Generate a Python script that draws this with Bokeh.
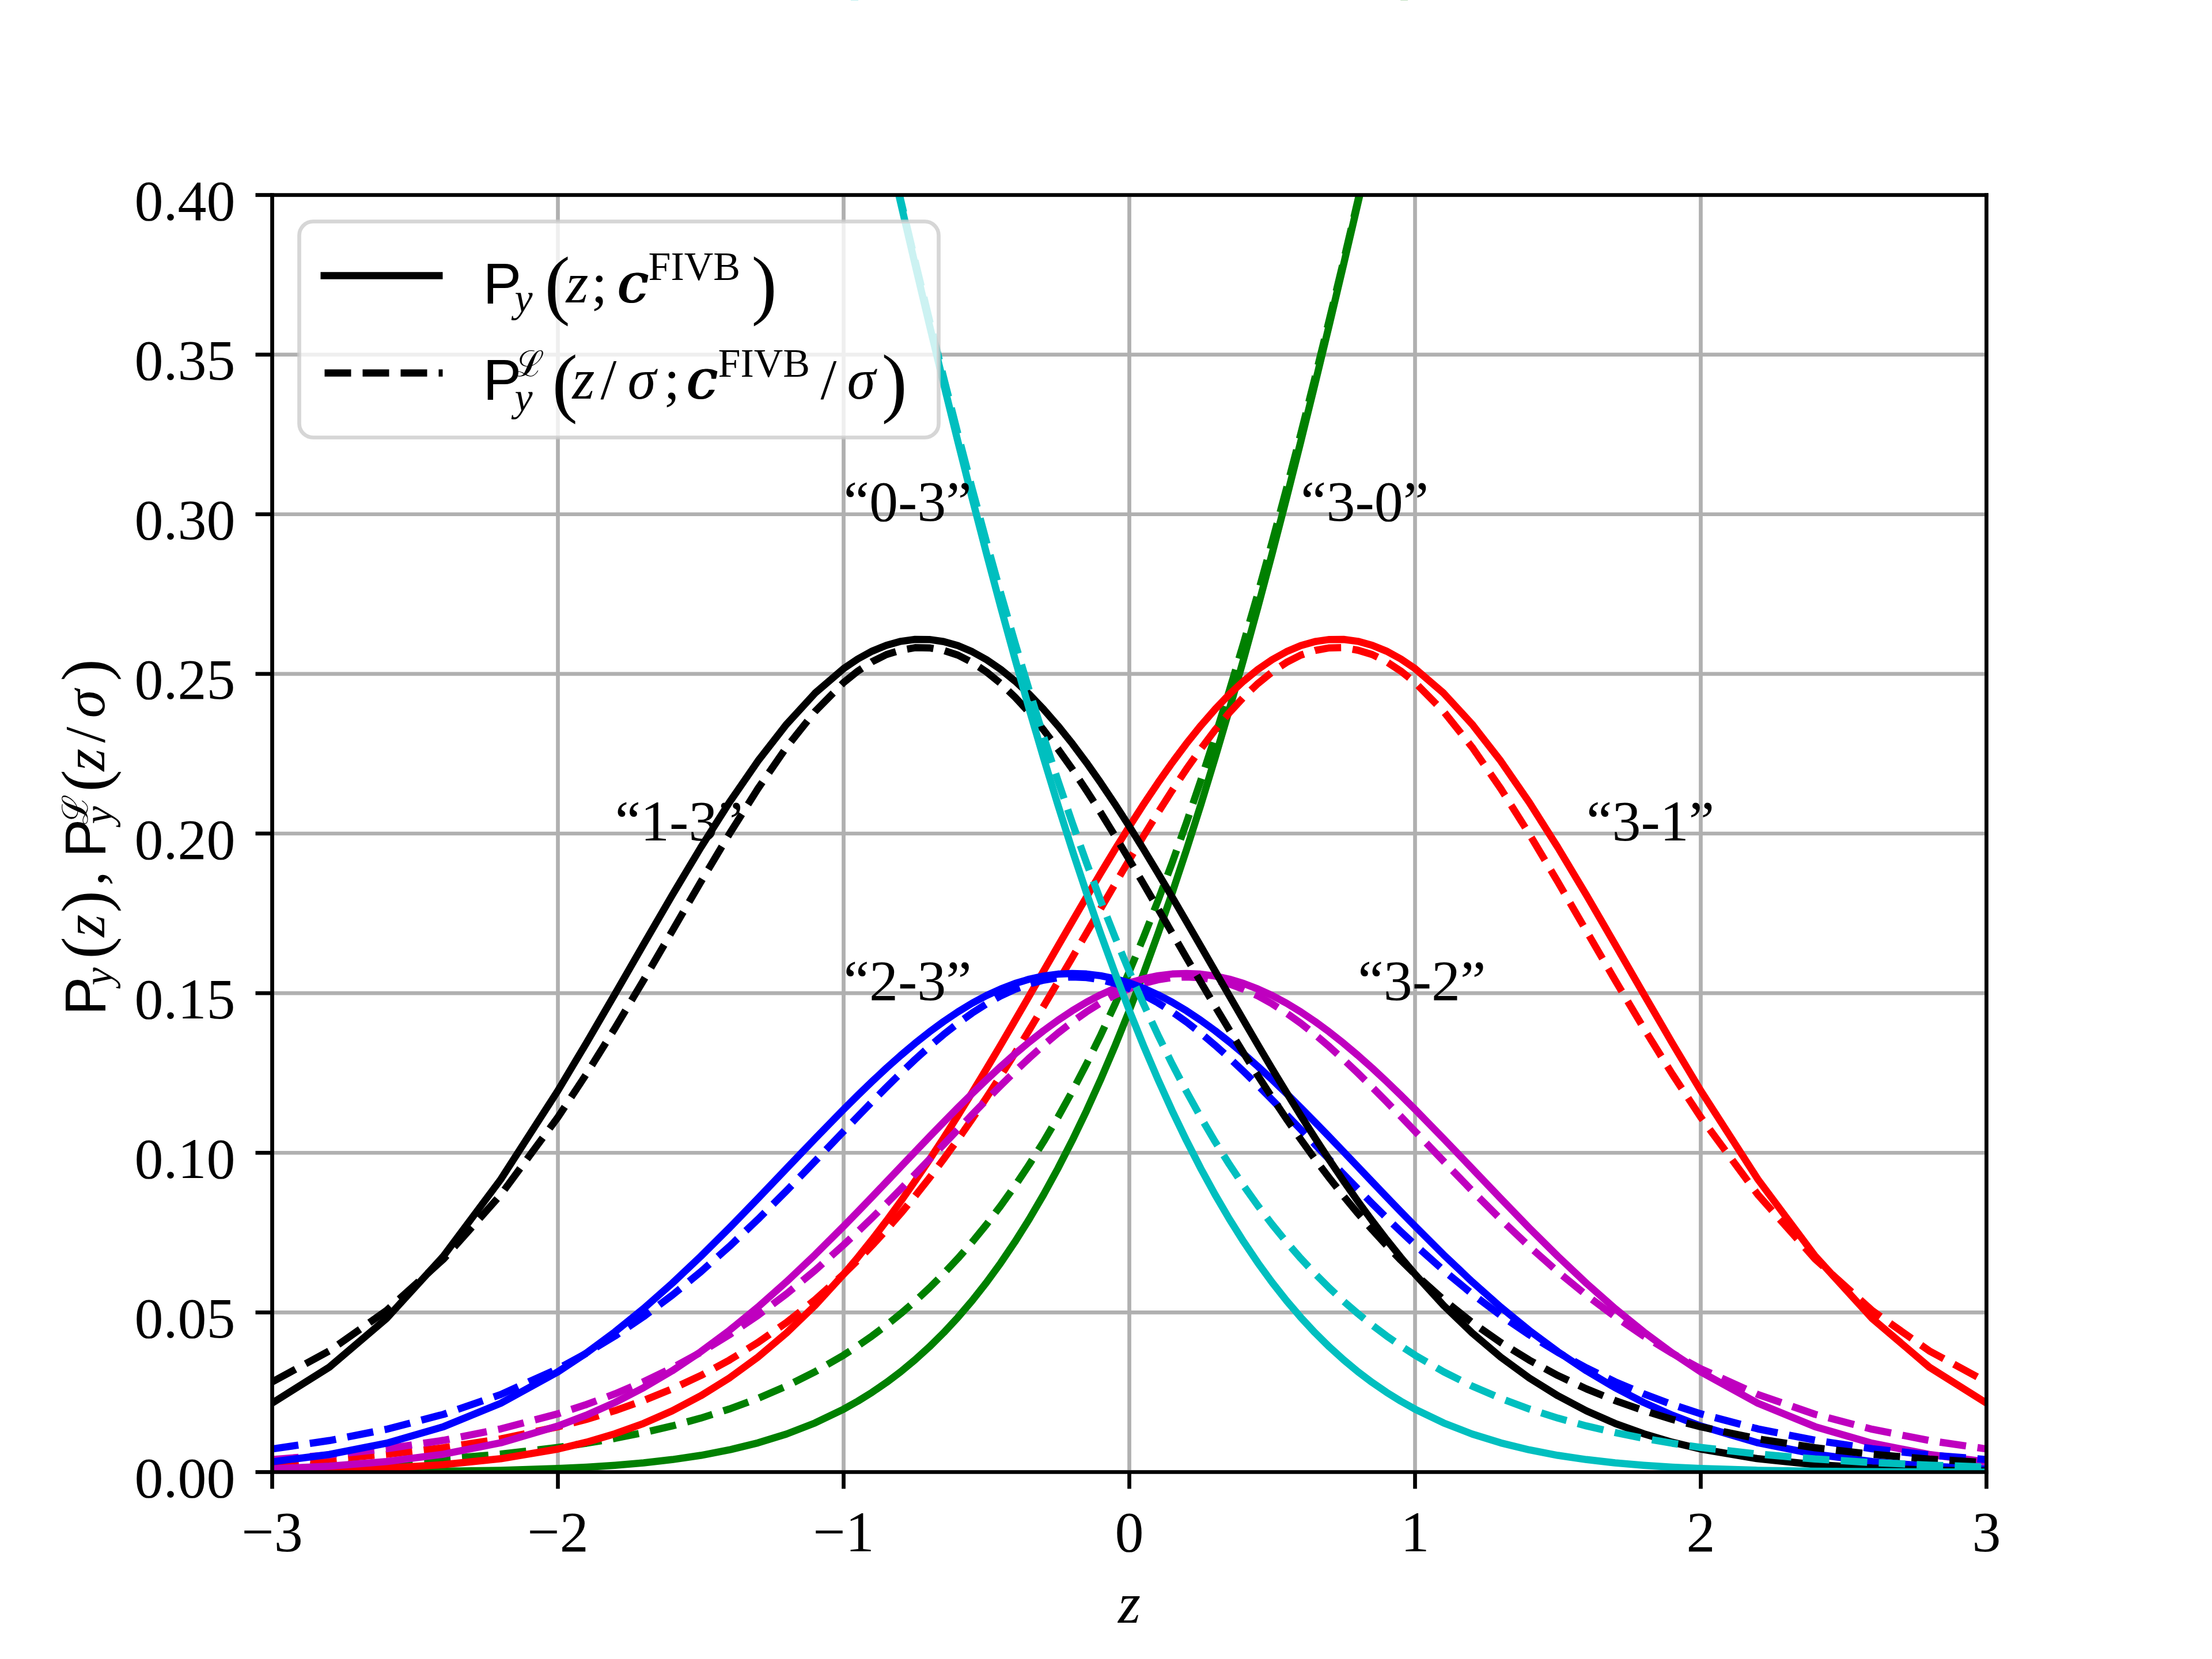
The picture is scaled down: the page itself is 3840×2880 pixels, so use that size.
import math
from bokeh.plotting import figure
from bokeh.models import Label, BoxAnnotation, Range1d, ColumnDataSource
from bokeh.core.properties import value
from bokeh.embed import file_html
from bokeh.resources import INLINE

# ---------------- data ----------------
Z = [-3.0, -2.8, -2.6, -2.4, -2.2, -2.0, -1.9, -1.8, -1.7, -1.6, -1.5, -1.4, -1.3, -1.2, -1.1,
     -1.0, -0.9, -0.8, -0.7, -0.6, -0.5, -0.4, -0.3, -0.2, -0.1, 0.0, 0.1, 0.2, 0.3, 0.4, 0.5,
     0.6, 0.7, 0.8, 0.9, 1.0, 1.1, 1.2, 1.3, 1.4, 1.5, 1.6, 1.7, 1.8, 1.9, 2.0, 2.2, 2.4, 2.6, 2.8, 3.0]
# extra readings between the grid points near the peaks
Z_HALF = [-0.95, -0.85, -0.75, -0.65, -0.55, -0.45, -0.35, -0.25, -0.15, -0.05,
          0.05, 0.15, 0.25, 0.35, 0.45, 0.55, 0.65, 0.75, 0.85, 0.95]

# solid: P_y(z; c^FIVB)
P_30 = [0.00002, 0.00006, 0.00013, 0.00027, 0.00056, 0.00111, 0.00154, 0.00212, 0.00289, 0.00391, 0.00523,
        0.00695, 0.00914, 0.01191, 0.01539, 0.01970, 0.02500, 0.03144, 0.03920, 0.04846, 0.05938, 0.07215,
        0.08692, 0.10384, 0.12302, 0.14457, 0.16853, 0.19489, 0.22363, 0.25463, 0.28774, 0.32276, 0.35942,
        0.39743, 0.43644, 0.47608, 0.51595, 0.55567, 0.59484, 0.63307, 0.67003, 0.70540, 0.73891, 0.77035,
        0.79955, 0.82639, 0.87286, 0.90988, 0.93822, 0.95907, 0.97381]
P_31 = [0.00032, 0.00064, 0.00125, 0.00233, 0.00418, 0.00722, 0.00935, 0.01200, 0.01524, 0.01917, 0.02389,
        0.02946, 0.03600, 0.04356, 0.05220, 0.06196, 0.07284, 0.08480, 0.09778, 0.11166, 0.12628, 0.14146,
        0.15693, 0.17243, 0.18764, 0.20222, 0.21585, 0.22820, 0.23892, 0.24776, 0.25447, 0.25885, 0.26078,
        0.26020, 0.25713, 0.25166, 0.24396, 0.23420, 0.22270, 0.20972, 0.19560, 0.18069, 0.16531, 0.14978,
        0.13441, 0.11947, 0.09168, 0.06769, 0.04809, 0.03286, 0.02161]
P_32 = [0.00101, 0.00186, 0.00328, 0.00560, 0.00916, 0.01442, 0.01783, 0.02181, 0.02644, 0.03172, 0.03769,
        0.04435, 0.05166, 0.05960, 0.06808, 0.07700, 0.08622, 0.09562, 0.10498, 0.11413, 0.12288, 0.13098,
        0.13825, 0.14448, 0.14951, 0.15321, 0.15545, 0.15617, 0.15536, 0.15303, 0.14925, 0.14414, 0.13784,
        0.13051, 0.12237, 0.11360, 0.10442, 0.09506, 0.08567, 0.07645, 0.06756, 0.05911, 0.05121, 0.04394,
        0.03732, 0.03139, 0.02156, 0.01423, 0.00903, 0.00551, 0.00323]
P_23 = [0.00323, 0.00551, 0.00903, 0.01423, 0.02156, 0.03139, 0.03732, 0.04394, 0.05121, 0.05911, 0.06756,
        0.07645, 0.08567, 0.09506, 0.10442, 0.11360, 0.12237, 0.13051, 0.13784, 0.14414, 0.14925, 0.15303,
        0.15536, 0.15617, 0.15545, 0.15321, 0.14951, 0.14448, 0.13825, 0.13098, 0.12288, 0.11413, 0.10498,
        0.09562, 0.08622, 0.07700, 0.06808, 0.05960, 0.05166, 0.04435, 0.03769, 0.03172, 0.02644, 0.02181,
        0.01783, 0.01442, 0.00916, 0.00560, 0.00328, 0.00186, 0.00101]
P_13 = [0.02161, 0.03286, 0.04809, 0.06769, 0.09168, 0.11947, 0.13441, 0.14978, 0.16531, 0.18069, 0.19560,
        0.20972, 0.22270, 0.23420, 0.24396, 0.25166, 0.25713, 0.26020, 0.26078, 0.25885, 0.25447, 0.24776,
        0.23892, 0.22820, 0.21585, 0.20222, 0.18764, 0.17243, 0.15693, 0.14146, 0.12628, 0.11166, 0.09778,
        0.08480, 0.07284, 0.06196, 0.05220, 0.04356, 0.03600, 0.02946, 0.02389, 0.01917, 0.01524, 0.01200,
        0.00935, 0.00722, 0.00418, 0.00233, 0.00125, 0.00064, 0.00032]
P_03 = [0.97381, 0.95907, 0.93822, 0.90988, 0.87286, 0.82639, 0.79955, 0.77035, 0.73891, 0.70540, 0.67003,
        0.63307, 0.59484, 0.55567, 0.51595, 0.47608, 0.43644, 0.39743, 0.35942, 0.32276, 0.28774, 0.25463,
        0.22363, 0.19489, 0.16853, 0.14457, 0.12302, 0.10384, 0.08692, 0.07215, 0.05938, 0.04846, 0.03920,
        0.03144, 0.02500, 0.01970, 0.01539, 0.01191, 0.00914, 0.00695, 0.00523, 0.00391, 0.00289, 0.00212,
        0.00154, 0.00111, 0.00056, 0.00027, 0.00013, 0.00006, 0.00002]

P_30_H = [0.02222, 0.02807, 0.03515, 0.04363, 0.05370, 0.06552, 0.07927, 0.09510, 0.11314, 0.13350,
          0.15625, 0.18141, 0.20897, 0.23885, 0.27093, 0.30503, 0.34090, 0.37828, 0.41683, 0.45620]
P_31_H = [0.06726, 0.07868, 0.09116, 0.10462, 0.11889, 0.13381, 0.14917, 0.16469, 0.18008, 0.19503,
          0.20918, 0.22221, 0.23378, 0.24360, 0.25140, 0.25695, 0.26013, 0.26080, 0.25897, 0.25469]
P_32_H = [0.08158, 0.09091, 0.10032, 0.10960, 0.11857, 0.12703, 0.13473, 0.14150, 0.14716, 0.15153,
          0.15451, 0.15600, 0.15596, 0.15438, 0.15131, 0.14686, 0.14112, 0.13429, 0.12654, 0.11805]
P_23_H = [0.11805, 0.12654, 0.13429, 0.14112, 0.14686, 0.15131, 0.15438, 0.15596, 0.15600, 0.15451,
          0.15153, 0.14716, 0.14150, 0.13473, 0.12703, 0.11857, 0.10960, 0.10032, 0.09091, 0.08158]
P_13_H = [0.25469, 0.25897, 0.26080, 0.26013, 0.25695, 0.25140, 0.24360, 0.23378, 0.22221, 0.20918,
          0.19503, 0.18008, 0.16469, 0.14917, 0.13381, 0.11889, 0.10462, 0.09116, 0.07868, 0.06726]
P_03_H = [0.45620, 0.41683, 0.37828, 0.34090, 0.30503, 0.27093, 0.23885, 0.20897, 0.18141, 0.15625,
          0.13350, 0.11314, 0.09510, 0.07927, 0.06552, 0.05370, 0.04363, 0.03515, 0.02807, 0.02222]

# dashed: P_y^L(z/sigma; c^FIVB/sigma)
L_30 = [0.00159, 0.00218, 0.00299, 0.00410, 0.00563, 0.00771, 0.00903, 0.01056, 0.01236, 0.01445, 0.01690,
        0.01975, 0.02307, 0.02693, 0.03141, 0.03662, 0.04265, 0.04962, 0.05767, 0.06692, 0.07754, 0.08968,
        0.10351, 0.11920, 0.13690, 0.15678, 0.17890, 0.20341, 0.23035, 0.25968, 0.29134, 0.32515, 0.36094,
        0.39834, 0.43681, 0.47620, 0.51587, 0.55533, 0.59410, 0.63174, 0.66783, 0.70206, 0.73416, 0.76397,
        0.79139, 0.81638, 0.85930, 0.89350, 0.92015, 0.94058, 0.95603]
L_31 = [0.00297, 0.00407, 0.00557, 0.00762, 0.01040, 0.01417, 0.01652, 0.01925, 0.02241, 0.02605, 0.03024,
        0.03506, 0.04057, 0.04684, 0.05396, 0.06200, 0.07100, 0.08102, 0.09209, 0.10419, 0.11727, 0.13123,
        0.14592, 0.16111, 0.17652, 0.19177, 0.20650, 0.22021, 0.23242, 0.24270, 0.25063, 0.25588, 0.25816,
        0.25742, 0.25384, 0.24730, 0.23824, 0.22701, 0.21405, 0.19983, 0.18482, 0.16944, 0.15409, 0.13909,
        0.12471, 0.11113, 0.08687, 0.06674, 0.05058, 0.03794, 0.02824]
L_32 = [0.00393, 0.00537, 0.00731, 0.00996, 0.01352, 0.01825, 0.02116, 0.02450, 0.02830, 0.03262, 0.03749,
        0.04298, 0.04907, 0.05580, 0.06317, 0.07116, 0.07967, 0.08864, 0.09792, 0.10730, 0.11657, 0.12549,
        0.13371, 0.14098, 0.14698, 0.15145, 0.15420, 0.15508, 0.15408, 0.15122, 0.14666, 0.14057, 0.13324,
        0.12496, 0.11603, 0.10673, 0.09735, 0.08809, 0.07915, 0.07065, 0.06272, 0.05539, 0.04869, 0.04263,
        0.03720, 0.03236, 0.02429, 0.01809, 0.01340, 0.00987, 0.00725]
L_23 = [0.00725, 0.00987, 0.01340, 0.01809, 0.02429, 0.03236, 0.03720, 0.04263, 0.04869, 0.05539, 0.06272,
        0.07065, 0.07915, 0.08809, 0.09735, 0.10673, 0.11603, 0.12496, 0.13324, 0.14057, 0.14666, 0.15122,
        0.15408, 0.15508, 0.15420, 0.15145, 0.14698, 0.14098, 0.13371, 0.12549, 0.11657, 0.10730, 0.09792,
        0.08864, 0.07967, 0.07116, 0.06317, 0.05580, 0.04907, 0.04298, 0.03749, 0.03262, 0.02830, 0.02450,
        0.02116, 0.01825, 0.01352, 0.00996, 0.00731, 0.00537, 0.00393]
L_13 = [0.02824, 0.03794, 0.05058, 0.06674, 0.08687, 0.11113, 0.12471, 0.13909, 0.15409, 0.16944, 0.18482,
        0.19983, 0.21405, 0.22701, 0.23824, 0.24730, 0.25384, 0.25742, 0.25816, 0.25588, 0.25063, 0.24270,
        0.23242, 0.22021, 0.20650, 0.19177, 0.17652, 0.16111, 0.14592, 0.13123, 0.11727, 0.10419, 0.09209,
        0.08102, 0.07100, 0.06200, 0.05396, 0.04684, 0.04057, 0.03506, 0.03024, 0.02605, 0.02241, 0.01925,
        0.01652, 0.01417, 0.01040, 0.00762, 0.00557, 0.00407, 0.00297]
L_03 = [0.95603, 0.94058, 0.92015, 0.89350, 0.85930, 0.81638, 0.79139, 0.76397, 0.73416, 0.70206, 0.66783,
        0.63174, 0.59410, 0.55533, 0.51587, 0.47620, 0.43681, 0.39834, 0.36094, 0.32515, 0.29134, 0.25968,
        0.23035, 0.20341, 0.17890, 0.15678, 0.13690, 0.11920, 0.10351, 0.08968, 0.07754, 0.06692, 0.05767,
        0.04962, 0.04265, 0.03662, 0.03141, 0.02693, 0.02307, 0.01975, 0.01690, 0.01445, 0.01236, 0.01056,
        0.00903, 0.00771, 0.00563, 0.00410, 0.00299, 0.00218, 0.00159]

L_30_H = [0.03953, 0.04601, 0.05350, 0.06214, 0.07205, 0.08342, 0.09638, 0.11112, 0.12779, 0.14655,
          0.16753, 0.19086, 0.21659, 0.24471, 0.27522, 0.30799, 0.34285, 0.37940, 0.41737, 0.45645]
L_31_H = [0.06637, 0.07589, 0.08643, 0.09801, 0.11061, 0.12414, 0.13850, 0.15347, 0.16882, 0.18420,
          0.19925, 0.21350, 0.22651, 0.23784, 0.24699, 0.25360, 0.25736, 0.25822, 0.25607, 0.25089]
L_32_H = [0.07535, 0.08411, 0.09325, 0.10260, 0.11197, 0.12109, 0.12970, 0.13748, 0.14415, 0.14942,
          0.15305, 0.15488, 0.15483, 0.15287, 0.14914, 0.14378, 0.13704, 0.12920, 0.12055, 0.11141]
L_23_H = [0.11141, 0.12055, 0.12920, 0.13704, 0.14378, 0.14914, 0.15287, 0.15483, 0.15488, 0.15305,
          0.14942, 0.14415, 0.13748, 0.12970, 0.12109, 0.11197, 0.10260, 0.09325, 0.08411, 0.07535]
L_13_H = [0.25089, 0.25607, 0.25822, 0.25736, 0.25360, 0.24699, 0.23784, 0.22651, 0.21350, 0.19925,
          0.18420, 0.16882, 0.15347, 0.13850, 0.12414, 0.11061, 0.09801, 0.08643, 0.07589, 0.06637]
L_03_H = [0.45645, 0.41737, 0.37940, 0.34285, 0.30799, 0.27522, 0.24471, 0.21659, 0.19086, 0.16753,
          0.14655, 0.12779, 0.11112, 0.09638, 0.08342, 0.07205, 0.06214, 0.05350, 0.04601, 0.03953]

OUTCOMES = ["3-0", "3-1", "3-2", "2-3", "1-3", "0-3"]
COLORS = ["#008000", "#ff0000", "#bf00bf", "#0000ff", "#000000", "#00bfbf"]
SOLID = [(P_30, P_30_H), (P_31, P_31_H), (P_32, P_32_H), (P_23, P_23_H), (P_13, P_13_H), (P_03, P_03_H)]
DASHED = [(L_30, L_30_H), (L_31, L_31_H), (L_32, L_32_H), (L_23, L_23_H), (L_13, L_13_H), (L_03, L_03_H)]

LABEL_TEXT = ["\u201c0-3\u201d", "\u201c3-0\u201d", "\u201c1-3\u201d", "\u201c3-1\u201d", "\u201c2-3\u201d", "\u201c3-2\u201d"]
LABEL_X = [-1.0, 0.6, -1.8, 1.6, -1.0, 0.8]
LABEL_Y = [0.30, 0.30, 0.20, 0.20, 0.15, 0.15]

X_MIN, X_MAX = -3.0, 3.0
Y_MIN, Y_MAX = 0.0, 0.4
X_TICKS = [-3, -2, -1, 0, 1, 2, 3]
X_TICK_LABELS = ["\u22123", "\u22122", "\u22121", "0", "1", "2", "3"]
Y_TICKS = [0, 0.05, 0.1, 0.15, 0.2, 0.25, 0.3, 0.35, 0.4]
Y_TICK_LABELS = ["0.00", "0.05", "0.10", "0.15", "0.20", "0.25", "0.30", "0.35", "0.40"]
X_LABEL = "z"

for a, b in SOLID + DASHED:
    assert len(a) == len(Z) and len(b) == len(Z_HALF), (len(a), len(b))


def merged(vals, vals_half):
    pts = sorted(zip(Z + Z_HALF, vals + vals_half))
    return [q[0] for q in pts], [q[1] for q in pts]


# ---------------- geometry (page pixels) ----------------
PAGE_W, PAGE_H = 3824, 2864     # drawable area inside the 8px body margin
PX_L, PX_T = 480, 346           # axes box top-left in page pixels
FW, FH = 2976, 2217             # axes box size in pixels
SERIF = "Liberation Serif"
SANS = "Liberation Sans"
SPINE = 6.7
TICK = 29
DESC = 0.22                     # text anchor correction (fraction of font size)


def dx(px):
    return X_MIN + (px - PX_L) * (X_MAX - X_MIN) / FW


def dy(py):
    return Y_MAX - (py - PX_T) * (Y_MAX - Y_MIN) / FH


PXX = (X_MAX - X_MIN) / FW      # data units per pixel
PXY = (Y_MAX - Y_MIN) / FH

# The whole canvas is the plotting frame; the axes box is drawn explicitly.
p = figure(width=PAGE_W, height=PAGE_H,
           x_range=Range1d(dx(8), dx(8 + PAGE_W)), y_range=Range1d(dy(8 + PAGE_H), dy(8)),
           x_axis_type=None, y_axis_type=None, title=None,
           output_backend="svg", toolbar_location=None,
           min_border=0, min_border_left=0, min_border_right=0, min_border_top=0, min_border_bottom=0)
p.outline_line_color = None
p.background_fill_color = "white"
p.border_fill_color = "white"

# grid
p.segment(x0=X_TICKS, x1=X_TICKS, y0=[Y_MIN] * len(X_TICKS), y1=[Y_MAX] * len(X_TICKS),
          line_color="#b0b0b0", line_width=SPINE)
p.segment(x0=[X_MIN] * len(Y_TICKS), x1=[X_MAX] * len(Y_TICKS), y0=Y_TICKS, y1=Y_TICKS,
          line_color="#b0b0b0", line_width=SPINE)

# curves
LW = 12.5
for (s_main, s_half), (d_main, d_half), col in zip(SOLID, DASHED, COLORS):
    zs, vs = merged(s_main, s_half)
    p.line(zs, vs, line_color=col, line_width=LW, line_join="round")
    zd, vd = merged(d_main, d_half)
    p.line(zd, vd, line_color=col, line_width=LW, line_dash="46 20", line_join="round")

# white masks outside the axes box (curves are clipped to the box as in the reference)
X0, X1 = dx(8) - 5.0, dx(8 + PAGE_W) + 5.0
Y0, Y1 = dy(8 + PAGE_H) - 1.0, dy(8) + 1.0
p.quad(left=[X0, X0, X0, X_MAX], right=[X1, X1, X_MIN, X1],
       bottom=[Y_MAX, Y0, Y0, Y0], top=[Y1, Y_MIN, Y1, Y1],
       fill_color="white", line_color=None)

# outcome labels
p.text(x=LABEL_X, y=[v + DESC * 100 * PXY for v in LABEL_Y], text=LABEL_TEXT,
       text_font=value(SERIF), text_font_size="100px",
       text_color="black", text_baseline="alphabetic", text_align="left")

# spines
p.segment(x0=[X_MIN, X_MAX, X_MIN, X_MIN], x1=[X_MIN, X_MAX, X_MAX, X_MAX],
          y0=[Y_MIN, Y_MIN, Y_MIN, Y_MAX], y1=[Y_MAX, Y_MAX, Y_MIN, Y_MAX],
          line_color="black", line_width=SPINE, line_cap="square")
# ticks
p.segment(x0=X_TICKS, x1=X_TICKS, y0=[Y_MIN] * len(X_TICKS), y1=[Y_MIN - TICK * PXY] * len(X_TICKS),
          line_color="black", line_width=SPINE)
p.segment(x0=[X_MIN] * len(Y_TICKS), x1=[X_MIN - TICK * PXX] * len(Y_TICKS), y0=Y_TICKS, y1=Y_TICKS,
          line_color="black", line_width=SPINE)
# tick labels
p.text(x=X_TICKS, y=[Y_MIN - (127 - DESC * 100) * PXY] * len(X_TICKS), text=X_TICK_LABELS,
       text_font=value(SERIF), text_font_size="100px", text_color="black",
       text_align="center", text_baseline="alphabetic")
p.text(x=[X_MIN - 64 * PXX] * len(Y_TICKS), y=[t - (33 - DESC * 100) * PXY for t in Y_TICKS],
       text=Y_TICK_LABELS, text_font=value(SERIF), text_font_size="100px", text_color="black",
       text_align="right", text_baseline="alphabetic")
# x-axis title
p.text(x=[(X_MIN + X_MAX) / 2], y=[Y_MIN - (250 - DESC * 100) * PXY], text=[X_LABEL],
       text_font=value(SERIF), text_font_size="100px", text_font_style="italic",
       text_color="black", text_align="center", text_baseline="alphabetic")

# y-axis title, composed piece by piece (rotated)
YLABEL_PIECES = [
    # (text, baseline x page px, start y page px, font, size, style)
    ("P", 177, 1770, SANS, 100, "normal"),
    ("y", 193, 1718, SERIF, 70, "italic"),
    ("(", 180, 1672, SERIF, 115, "normal"),
    ("z", 177, 1634, SERIF, 100, "italic"),
    (")", 180, 1592, SERIF, 115, "normal"),
    (",", 177, 1545, SERIF, 100, "normal"),
    ("P", 177, 1496, SANS, 100, "normal"),
    ("\u2112", 152, 1438, "DejaVu Serif", 62, "normal"),
    ("y", 193, 1438, SERIF, 70, "italic"),
    ("(", 180, 1382, SERIF, 115, "normal"),
    ("z", 177, 1346, SERIF, 100, "italic"),
    ("/", 177, 1297, SERIF, 100, "normal"),
    ("\u03c3", 177, 1254, SERIF, 100, "italic"),
    (")", 180, 1190, SERIF, 115, "normal"),
]
ysrc = ColumnDataSource(dict(
    x=[dx(q[1] - DESC * q[4]) for q in YLABEL_PIECES],
    y=[dy(q[2]) for q in YLABEL_PIECES],
    text=[q[0] for q in YLABEL_PIECES],
    font=[q[3] for q in YLABEL_PIECES],
    size=[f"{q[4]}px" for q in YLABEL_PIECES],
    style=[q[5] for q in YLABEL_PIECES],
))
p.text(x="x", y="y", text="text", source=ysrc, text_font="font", text_font_size="size",
       text_font_style="style", text_color="black", text_baseline="alphabetic",
       text_align="left", angle=math.pi / 2)

# ---------------- legend (drawn by hand) ----------------
box = BoxAnnotation(left=dx(527), right=dx(1637), top=dy(392), bottom=dy(767),
                    fill_color="white", fill_alpha=0.8, line_color="#cccccc", line_alpha=0.8,
                    line_width=SPINE, border_radius=24)
p.add_layout(box)

r1 = p.line([dx(564), dx(776)], [dy(486), dy(486)], line_color="black", line_width=LW)
r2 = p.line([dx(571), dx(776)], [dy(655), dy(655)], line_color="black", line_width=LW, line_dash="46 20")
r1.level = "overlay"
r2.level = "overlay"


def add_label(text, px, py, font, size, style="normal", align="left"):
    lab = Label(x=dx(px), y=dy(py - DESC * size), text=text, text_font=font,
                text_font_size=f"{size}px", text_font_style=style, text_color="black",
                text_baseline="alphabetic", text_align=align, level="overlay")
    p.add_layout(lab)


BOLD_C = "DejaVu Serif"
LEGEND_PIECES = [
    # row 1: P_y(z; c^FIVB)
    ("P", 846, 521, SANS, 100, "normal"),
    ("y", 901, 540, SERIF, 70, "italic"),
    ("(", 953, 530, SERIF, 133, "normal"),
    ("z", 990, 521, SERIF, 100, "italic"),
    (";", 1034, 521, SERIF, 100, "normal"),
    ("c", 1078, 521, BOLD_C, 96, "italic"),
    ("c", 1081, 521, BOLD_C, 96, "italic"),
    ("FIVB", 1133, 485, SERIF, 70, "normal"),
    (")", 1312, 530, SERIF, 133, "normal"),
    # row 2: P_y^L(z/sigma; c^FIVB/sigma)
    ("P", 846, 688, SANS, 100, "normal"),
    ("\u2112", 900, 653, "DejaVu Serif", 62, "normal"),
    ("y", 901, 712, SERIF, 70, "italic"),
    ("(", 966, 700, SERIF, 133, "normal"),
    ("z", 1001, 688, SERIF, 100, "italic"),
    ("/", 1050, 688, SERIF, 100, "normal"),
    ("\u03c3", 1097, 688, SERIF, 100, "italic"),
    (";", 1160, 688, SERIF, 100, "normal"),
    ("c", 1198, 688, BOLD_C, 96, "italic"),
    ("c", 1201, 688, BOLD_C, 96, "italic"),
    ("FIVB", 1254, 653, SERIF, 70, "normal"),
    ("/", 1432, 688, SERIF, 100, "normal"),
    ("\u03c3", 1478, 688, SERIF, 100, "italic"),
    (")", 1538, 700, SERIF, 133, "normal"),
]
for t, px, py, f, s, st in LEGEND_PIECES:
    add_label(t, px, py, f, s, st)

open("out.html", "w").write(file_html(p, INLINE))
